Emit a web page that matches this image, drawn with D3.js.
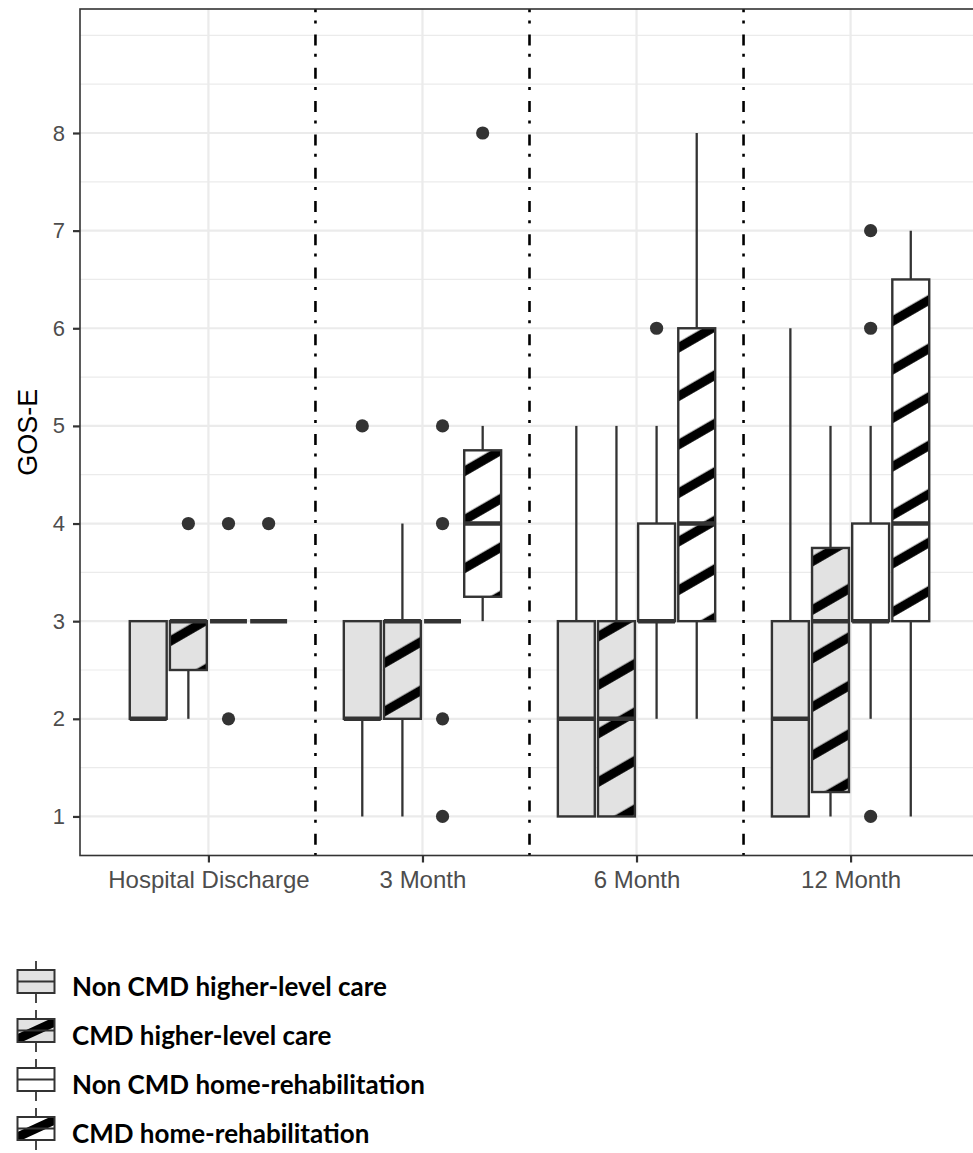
<!DOCTYPE html>
<html>
<head>
<meta charset="utf-8">
<script src="https://cdn.jsdelivr.net/npm/d3@7"></script>
<style>
  body { margin: 0; background: #fff; }
  svg { display: block; }
</style>
</head>
<body>
<svg id="chart" width="973" height="1153"></svg>
<script>
// categories
const timepoints = ['Hospital Discharge', '3 Month', '6 Month', '12 Month']
const groups = ['Non CMD higher-level care', 'CMD higher-level care', 'Non CMD home-rehabilitation', 'CMD home-rehabilitation']

// five number summaries per timepoint: [lower whisker, q1, median, q3, upper whisker]
const nonCmdHigher = [[2, 2, 2, 3, 3], [1, 2, 2, 3, 3], [1, 1, 2, 3, 5], [1, 1, 2, 3, 6]]
const cmdHigher = [[2, 2.5, 3, 3, 3], [1, 2, 3, 3, 4], [1, 1, 2, 3, 5], [1, 1.25, 3, 3.75, 5]]
const nonCmdHome = [[3, 3, 3, 3, 3], [3, 3, 3, 3, 3], [2, 3, 3, 4, 5], [2, 3, 3, 4, 5]]
const cmdHome = [[3, 3, 3, 3, 3], [3, 3.25, 4, 4.75, 5], [2, 3, 4, 6, 8], [1, 3, 4, 6.5, 7]]

// outliers per timepoint
const nonCmdHigherOut = [[], [5], [], []]
const cmdHigherOut = [[4], [], [], []]
const nonCmdHomeOut = [[4, 2], [5, 4, 2, 1], [6], [7, 6, 1]]
const cmdHomeOut = [[4], [8], [], []]

const yTicks = [1, 2, 3, 4, 5, 6, 7, 8]

const stats = [nonCmdHigher, cmdHigher, nonCmdHome, cmdHome]
const outliers = [nonCmdHigherOut, cmdHigherOut, nonCmdHomeOut, cmdHomeOut]
const fills = ['#E2E2E2', '#E2E2E2', '#FFFFFF', '#FFFFFF']
const hatched = [false, true, false, true]

const INK = '#333333'
const svg = d3.select('#chart')
const panel = { left: 80, right: 979, top: 9, bottom: 855.5 }

const x = d3.scalePoint().domain(timepoints).range([panel.left, panel.right]).padding(0.6)
const dodge = d3.scaleBand().domain(groups).range([-0.375 * x.step(), 0.375 * x.step()])
const boxW = dodge.bandwidth() * 0.92
const y = d3.scaleLinear().domain([0.6, 9.27]).range([panel.bottom, panel.top])

const defs = svg.append('defs')

// global stripe pattern, 30 degrees
const pat = defs.append('pattern')
  .attr('id', 'stripes')
  .attr('patternUnits', 'userSpaceOnUse')
  .attr('width', 20)
  .attr('height', 42)
  .attr('patternTransform', 'rotate(-30)')
pat.append('rect')
  .attr('x', 0).attr('y', 10.3 - 4.6)
  .attr('width', 20).attr('height', 9.2)
  .attr('fill', '#000')

defs.append('clipPath').attr('id', 'panelClip')
  .append('rect')
  .attr('x', panel.left).attr('y', panel.top)
  .attr('width', panel.right - panel.left).attr('height', panel.bottom - panel.top)

// grid
const grid = svg.append('g').attr('clip-path', 'url(#panelClip)')
const minor = d3.range(1.5, 9.01, 0.5).filter(v => !yTicks.includes(v))
grid.selectAll('line.minor')
  .data(minor)
  .join('line')
  .attr('x1', panel.left).attr('x2', panel.right)
  .attr('y1', d => y(d)).attr('y2', d => y(d))
  .attr('stroke', '#EBEBEB').attr('stroke-width', 1.2)
grid.selectAll('line.major')
  .data(yTicks)
  .join('line')
  .attr('x1', panel.left).attr('x2', panel.right)
  .attr('y1', d => y(d)).attr('y2', d => y(d))
  .attr('stroke', '#EBEBEB').attr('stroke-width', 2.2)
grid.selectAll('line.vmajor')
  .data(timepoints)
  .join('line')
  .attr('x1', d => x(d)).attr('x2', d => x(d))
  .attr('y1', panel.top).attr('y2', panel.bottom)
  .attr('stroke', '#EBEBEB').attr('stroke-width', 2.2)

// separators between timepoints
const seps = d3.pairs(timepoints).map(([a, b]) => (x(a) + x(b)) / 2)
grid.selectAll('line.sep')
  .data(seps)
  .join('line')
  .attr('x1', d => d).attr('x2', d => d)
  .attr('y1', panel.top).attr('y2', panel.bottom)
  .attr('stroke', '#000').attr('stroke-width', 2.6)
  .attr('stroke-dasharray', '3,11,11,8.3')
  .attr('stroke-dashoffset', 21.8)

// boxes
const records = groups.flatMap((g, gi) => timepoints.map((t, ti) => ({
  group: g,
  gi,
  time: t,
  s: stats[gi][ti],
  out: outliers[gi][ti],
  cx: x(t) + dodge(g) + dodge.bandwidth() / 2
})))

const boxes = svg.append('g').attr('clip-path', 'url(#panelClip)')
  .selectAll('g.box')
  .data(records)
  .join('g')
  .classed('box', true)

boxes.append('line')
  .attr('x1', d => d.cx).attr('x2', d => d.cx)
  .attr('y1', d => y(d.s[3])).attr('y2', d => y(d.s[4]))
  .attr('stroke', INK).attr('stroke-width', 2.3)
boxes.append('line')
  .attr('x1', d => d.cx).attr('x2', d => d.cx)
  .attr('y1', d => y(d.s[1])).attr('y2', d => y(d.s[0]))
  .attr('stroke', INK).attr('stroke-width', 2.3)

boxes.append('rect')
  .attr('x', d => d.cx - boxW / 2)
  .attr('y', d => y(d.s[3]))
  .attr('width', boxW)
  .attr('height', d => y(d.s[1]) - y(d.s[3]))
  .attr('fill', d => fills[d.gi])

boxes.filter(d => hatched[d.gi])
  .append('rect')
  .attr('x', d => d.cx - boxW / 2)
  .attr('y', d => y(d.s[3]))
  .attr('width', boxW)
  .attr('height', d => y(d.s[1]) - y(d.s[3]))
  .attr('fill', 'url(#stripes)')

boxes.append('rect')
  .attr('x', d => d.cx - boxW / 2)
  .attr('y', d => y(d.s[3]))
  .attr('width', boxW)
  .attr('height', d => y(d.s[1]) - y(d.s[3]))
  .attr('fill', 'none')
  .attr('stroke', INK).attr('stroke-width', 2.4)

boxes.append('line')
  .attr('x1', d => d.cx - boxW / 2).attr('x2', d => d.cx + boxW / 2)
  .attr('y1', d => y(d.s[2])).attr('y2', d => y(d.s[2]))
  .attr('stroke', INK).attr('stroke-width', 4.5)

boxes.selectAll('circle')
  .data(d => d.out.map(v => ({ v, cx: d.cx })))
  .join('circle')
  .attr('cx', d => d.cx)
  .attr('cy', d => y(d.v))
  .attr('r', 6.6)
  .attr('fill', INK)

// panel border
svg.append('rect')
  .attr('x', panel.left).attr('y', panel.top)
  .attr('width', panel.right - panel.left).attr('height', panel.bottom - panel.top)
  .attr('fill', 'none').attr('stroke', INK).attr('stroke-width', 1.6)

// axes
const yAxis = svg.append('g')
  .attr('transform', `translate(${panel.left},0)`)
  .call(d3.axisLeft(y).tickValues(yTicks).tickSize(7).tickPadding(8).tickFormat(d3.format('d')))
yAxis.select('.domain').remove()
yAxis.selectAll('line').attr('stroke', INK).attr('stroke-width', 2.2)
yAxis.selectAll('text')
  .attr('fill', '#4D4D4D')
  .style('font-family', '"Liberation Sans", Arial, sans-serif')
  .style('font-size', '22px')

const xAxis = svg.append('g')
  .attr('transform', `translate(0,${panel.bottom})`)
  .call(d3.axisBottom(x).tickSize(7).tickPadding(8.5))
xAxis.select('.domain').remove()
xAxis.selectAll('line').attr('stroke', INK).attr('stroke-width', 2.2)
xAxis.selectAll('text')
  .attr('fill', '#4D4D4D')
  .style('font-family', '"Liberation Sans", Arial, sans-serif')
  .style('font-size', '24px')

svg.append('text')
  .attr('transform', `translate(37,${(panel.top + panel.bottom) / 2}) rotate(-90)`)
  .attr('text-anchor', 'middle')
  .style('font-family', '"Liberation Sans", Arial, sans-serif')
  .style('font-size', '27px')
  .attr('fill', '#000')
  .text('GOS-E')

// legend
const LEG_TOP = 970
const LEG_STEP = 49
const KEY_X = 17.5
const KEY_W = 37
const KEY_H = 23
const legend = svg.append('g')
  .selectAll('g.item')
  .data(groups)
  .join('g')
  .classed('item', true)
  .attr('transform', (d, i) => `translate(0,${LEG_TOP + i * LEG_STEP})`)

legend.append('line')
  .attr('x1', KEY_X + KEY_W / 2).attr('x2', KEY_X + KEY_W / 2)
  .attr('y1', -9).attr('y2', KEY_H + 10)
  .attr('stroke', INK).attr('stroke-width', 1.8)
legend.append('rect')
  .attr('x', KEY_X).attr('y', 0)
  .attr('width', KEY_W).attr('height', KEY_H)
  .attr('fill', (d, i) => fills[i])

legend.each(function (d, i) {
  if (!hatched[i]) return
  const id = `keyClip${i}`
  defs.append('clipPath').attr('id', id)
    .append('rect')
    .attr('x', KEY_X).attr('y', LEG_TOP + i * LEG_STEP)
    .attr('width', KEY_W).attr('height', KEY_H)
  d3.select(this).append('line')
    .attr('clip-path', `url(#${id})`)
    .attr('transform', `translate(0,${-(LEG_TOP + i * LEG_STEP)})`)
    .attr('x1', KEY_X - 2).attr('y1', LEG_TOP + i * LEG_STEP + KEY_H - 2)
    .attr('x2', KEY_X + KEY_W + 2).attr('y2', LEG_TOP + i * LEG_STEP + 2)
    .attr('stroke', '#000').attr('stroke-width', 9)
})

legend.append('rect')
  .attr('x', KEY_X).attr('y', 0)
  .attr('width', KEY_W).attr('height', KEY_H)
  .attr('fill', 'none')
  .attr('stroke', INK).attr('stroke-width', 2)
legend.append('line')
  .attr('x1', KEY_X).attr('x2', KEY_X + KEY_W)
  .attr('y1', KEY_H / 2).attr('y2', KEY_H / 2)
  .attr('stroke', INK).attr('stroke-width', 2)

legend.append('text')
  .attr('x', 72)
  .attr('y', 26)
  .style('font-family', 'Lato, "Open Sans", sans-serif')
  .style('font-weight', 700)
  .style('font-size', '26px')
  .attr('fill', '#000')
  .text(d => d)
</script>
</body>
</html>
